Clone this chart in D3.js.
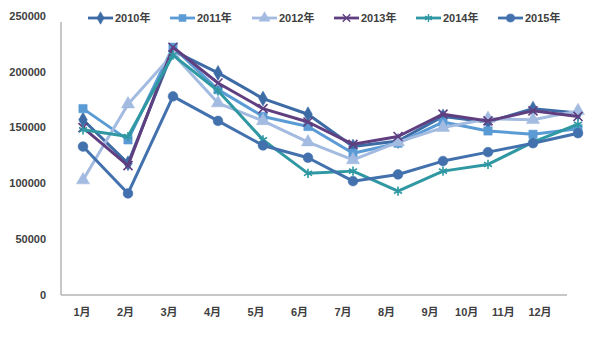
<!DOCTYPE html>
<html><head><meta charset="utf-8">
<script src="https://cdn.jsdelivr.net/npm/d3@7"></script>
<style>body{margin:0;background:#fff}svg{display:block}text{font-family:"Liberation Sans","Noto Sans CJK SC",sans-serif;font-weight:bold;fill:#404040}</style>
</head><body><svg id="c" width="600" height="337"></svg>
<script>
const months = ["1月","2月","3月","4月","5月","6月","7月","8月","9月","10月","11月","12月"];
const seriesNames = ["2010年","2011年","2012年","2013年","2014年","2015年"];
const v2010 = [157000,118000,219000,199000,176000,162000,133000,138000,160000,155000,167000,163000];
const v2011 = [167000,139000,222000,184000,160000,151000,127000,136000,155000,147000,144000,149000];
const v2012 = [103000,171000,216000,172000,156000,137000,121000,137000,150000,158000,157000,165000];
const v2013 = [150000,116000,222000,190000,167000,155000,135000,142000,162000,156000,165000,160000];
const v2014 = [148000,142000,215000,183000,139000,109000,111000,93000,111000,117000,137000,153000];
const v2015 = [133000,91000,178000,156000,134000,123000,102000,108000,120000,128000,136000,145000];
const yTicks = [0,50000,100000,150000,200000,250000];

const colors = ["#3d6ba5","#5b9bd5","#a3bbe0","#5f3f80","#2f98a3","#4271ad"];
const symbols = [d3.symbolDiamond, d3.symbolSquare, d3.symbolTriangle, d3.symbolTimes, d3.symbolAsterisk, d3.symbolCircle];
const symSize = [65, 70, 75, 55, 60, 75];
const stroked = [false,false,false,true,true,false];
const data = [v2010,v2011,v2012,v2013,v2014,v2015];

const svg = d3.select("#c");
const x = d3.scalePoint().domain(months).range([83,578]);
const xLab = d3.scaleLinear().domain([0,8,11]).range([82,430,540]);
const y = d3.scaleLinear().domain([0,250000]).range([295,16]);

// axes
svg.append("line").attr("x1",61).attr("x2",61).attr("y1",22).attr("y2",y(0)).attr("stroke","#b5b5b5").attr("stroke-width",1.5);
svg.append("line").attr("x1",61).attr("x2",567).attr("y1",y(0)).attr("y2",y(0)).attr("stroke","#b5b5b5").attr("stroke-width",1.5);
svg.selectAll("text.yt").data(yTicks).enter().append("text").attr("class","yt")
  .attr("x",46).attr("y",d=>y(d)).attr("dy","0.35em").attr("text-anchor","end")
  .attr("font-size",11).text(d=>d);
svg.selectAll("text.xt").data(months).enter().append("text").attr("class","xt")
  .attr("x",(d,i)=>xLab(i)).attr("y",312).attr("dy","0.35em").attr("text-anchor","middle")
  .attr("font-size",11).text(d=>d);

const line = d3.line().x((d,i)=>x(months[i])).y(d=>y(d));
data.forEach((vals,k)=>{
  const g = svg.append("g");
  g.append("path").datum(vals).attr("d",line).attr("fill","none")
    .attr("stroke",colors[k]).attr("stroke-width",3).attr("stroke-linejoin","round");
  g.selectAll("path.m").data(vals).enter().append("path").attr("class","m")
    .attr("transform",(d,i)=>`translate(${x(months[i])},${y(d)})`)
    .attr("d",d3.symbol().type(symbols[k]).size(symSize[k]))
    .attr("fill",stroked[k]?"none":colors[k])
    .attr("stroke",colors[k]).attr("stroke-width",stroked[k]?1.6:0.5);
});

// legend
const lg = svg.append("g");
seriesNames.forEach((n,k)=>{
  const lx = 88 + k*82;
  lg.append("line").attr("x1",lx).attr("x2",lx+25).attr("y1",18).attr("y2",18)
    .attr("stroke",colors[k]).attr("stroke-width",2.8);
  lg.append("path").attr("transform",`translate(${lx+12.5},18)`)
    .attr("d",d3.symbol().type(symbols[k]).size(symSize[k]*0.7))
    .attr("fill",stroked[k]?"none":colors[k]).attr("stroke",colors[k]).attr("stroke-width",stroked[k]?1.4:0.5);
  lg.append("text").attr("x",lx+27).attr("y",18).attr("dy","0.35em").attr("font-size",11).text(n);
});
</script></body></html>
